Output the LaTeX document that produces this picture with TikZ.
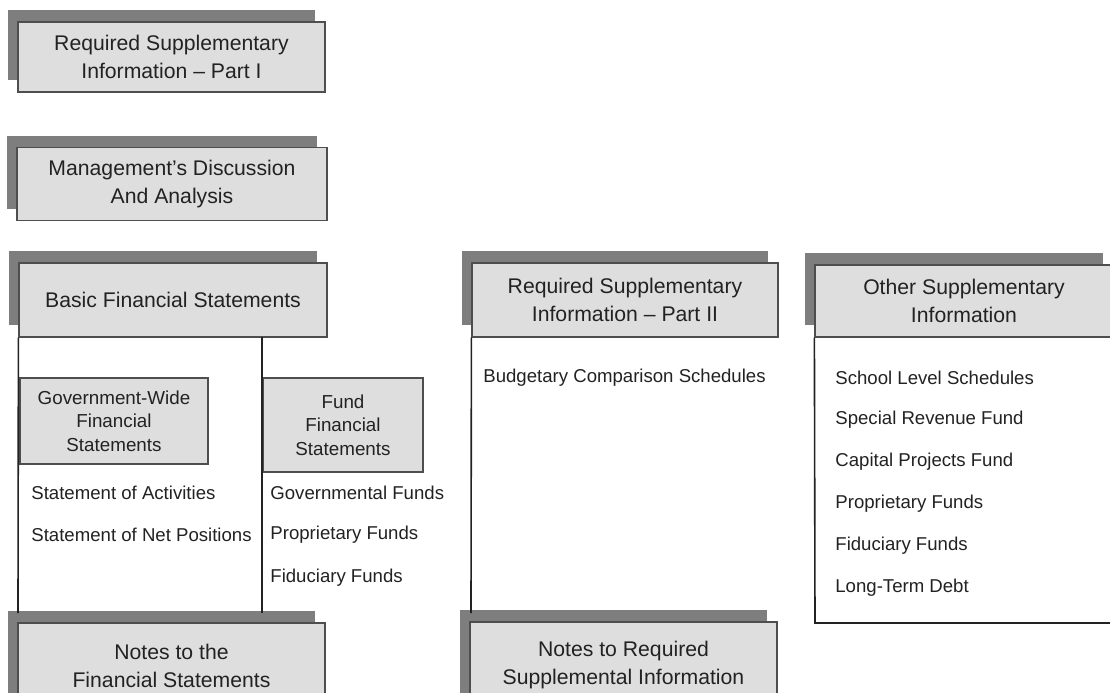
\documentclass[tikz,border=0pt]{standalone}
\usepackage{fontspec}
\setmainfont{Liberation Sans}
\usepackage{tikz}
\usetikzlibrary{shadows}

\definecolor{boxgray}{HTML}{DEDEDE}
\definecolor{shadegray}{HTML}{7E7E7E}
\definecolor{inkgray}{HTML}{222222}

\tikzset{
  head/.style={draw=inkgray!80, line width=0.6pt, fill=boxgray, align=center, text=inkgray,
    font=\fontsize{10.6pt}{14pt}\selectfont,
    drop shadow={shadow xshift=-5pt, shadow yshift=6pt, fill=shadegray, opacity=1}},
  sub/.style={draw=inkgray!80, line width=0.6pt, fill=boxgray, align=center, text=inkgray,
    font=\fontsize{9.4pt}{11.75pt}\selectfont},
  item/.style={anchor=west, inner sep=0pt, text=inkgray, font=\fontsize{9.3pt}{11pt}\selectfont},
  rule/.style={draw=inkgray, line width=0.8pt}
}

\begin{document}
\begin{tikzpicture}[x=0.5pt, y=-0.5pt]
	\useasboundingbox (0,0) rectangle (1110,692);
	\clip (0,0) rectangle (1110,692);
	\fill[white] (0,0) rectangle (1110,692);

	\node[head, minimum width=153.5pt, minimum height=35pt] (rsiA) at (171.5,57) {Required Supplementary\\Information – Part I};
	\node[head, minimum width=155pt, minimum height=36.5pt] (mda) at (172,184) {Management's Discussion\\And Analysis};
	\node[head, minimum width=154pt, minimum height=37pt] (bfs) at (173,300) {Basic Financial Statements};
	\node[head, minimum width=153pt, minimum height=37pt] (rsiB) at (625,300) {Required Supplementary\\Information – Part II};
	\node[head, minimum width=149pt, minimum height=36pt] (osi) at (964,301) {Other Supplementary\\Information};
	\node[head, minimum width=153.5pt, minimum height=43pt] (nfs) at (171.5,666) {Notes to the\\Financial Statements};
	\node[head, minimum width=153.5pt, minimum height=43.5pt] (nrsi) at (623.5,665.5) {Notes to Required\\Supplemental Information};

	\node[sub, minimum width=94pt, minimum height=43pt] (gwfs) at (114,421) {Government-Wide\\Financial\\Statements};
	\node[sub, minimum width=80pt, minimum height=47pt] (ffs) at (343,425) {Fund\\Financial\\Statements};

	\node[item] (sact) at (31,493) {Statement of Activities};
	\node[item] (snet) at (31,535) {Statement of Net Positions};
	\node[item] (gfund) at (270,493) {Governmental Funds};
	\node[item] (pfund) at (270,535) {Proprietary Funds};
	\node[item] (ffund) at (270,578) {Fiduciary Funds};
	\node[item] (bcs) at (483,378) {Budgetary Comparison Schedules};
	\node[item] (sls) at (835,378) {School Level Schedules};
	\node[item] (srf) at (835,420) {Special Revenue Fund};
	\node[item] (cpf) at (835,462) {Capital Projects Fund};
	\node[item] (opf) at (835,504) {Proprietary Funds};
	\node[item] (ofd) at (835,546) {Fiduciary Funds};
	\node[item] (ltd) at (835,588) {Long-Term Debt};

	\coordinate (bfsL) at (18,613);
	\coordinate (bfsT) at (262,337);
	\coordinate (bfsR) at (262,613);
	\coordinate (rsiL) at (471,613);
	\coordinate (osiC) at (815,623);
	\coordinate (osiR) at (1110,623);

	\draw[rule] (bfs.south west) -- (bfsL);
	\draw[rule] (bfsT) -- (bfsR);
	\draw[rule] (rsiB.south west) -- (rsiL);
	\draw[rule] (osi.south west) -- (osiC) -- (osiR);
\end{tikzpicture}
\end{document}
